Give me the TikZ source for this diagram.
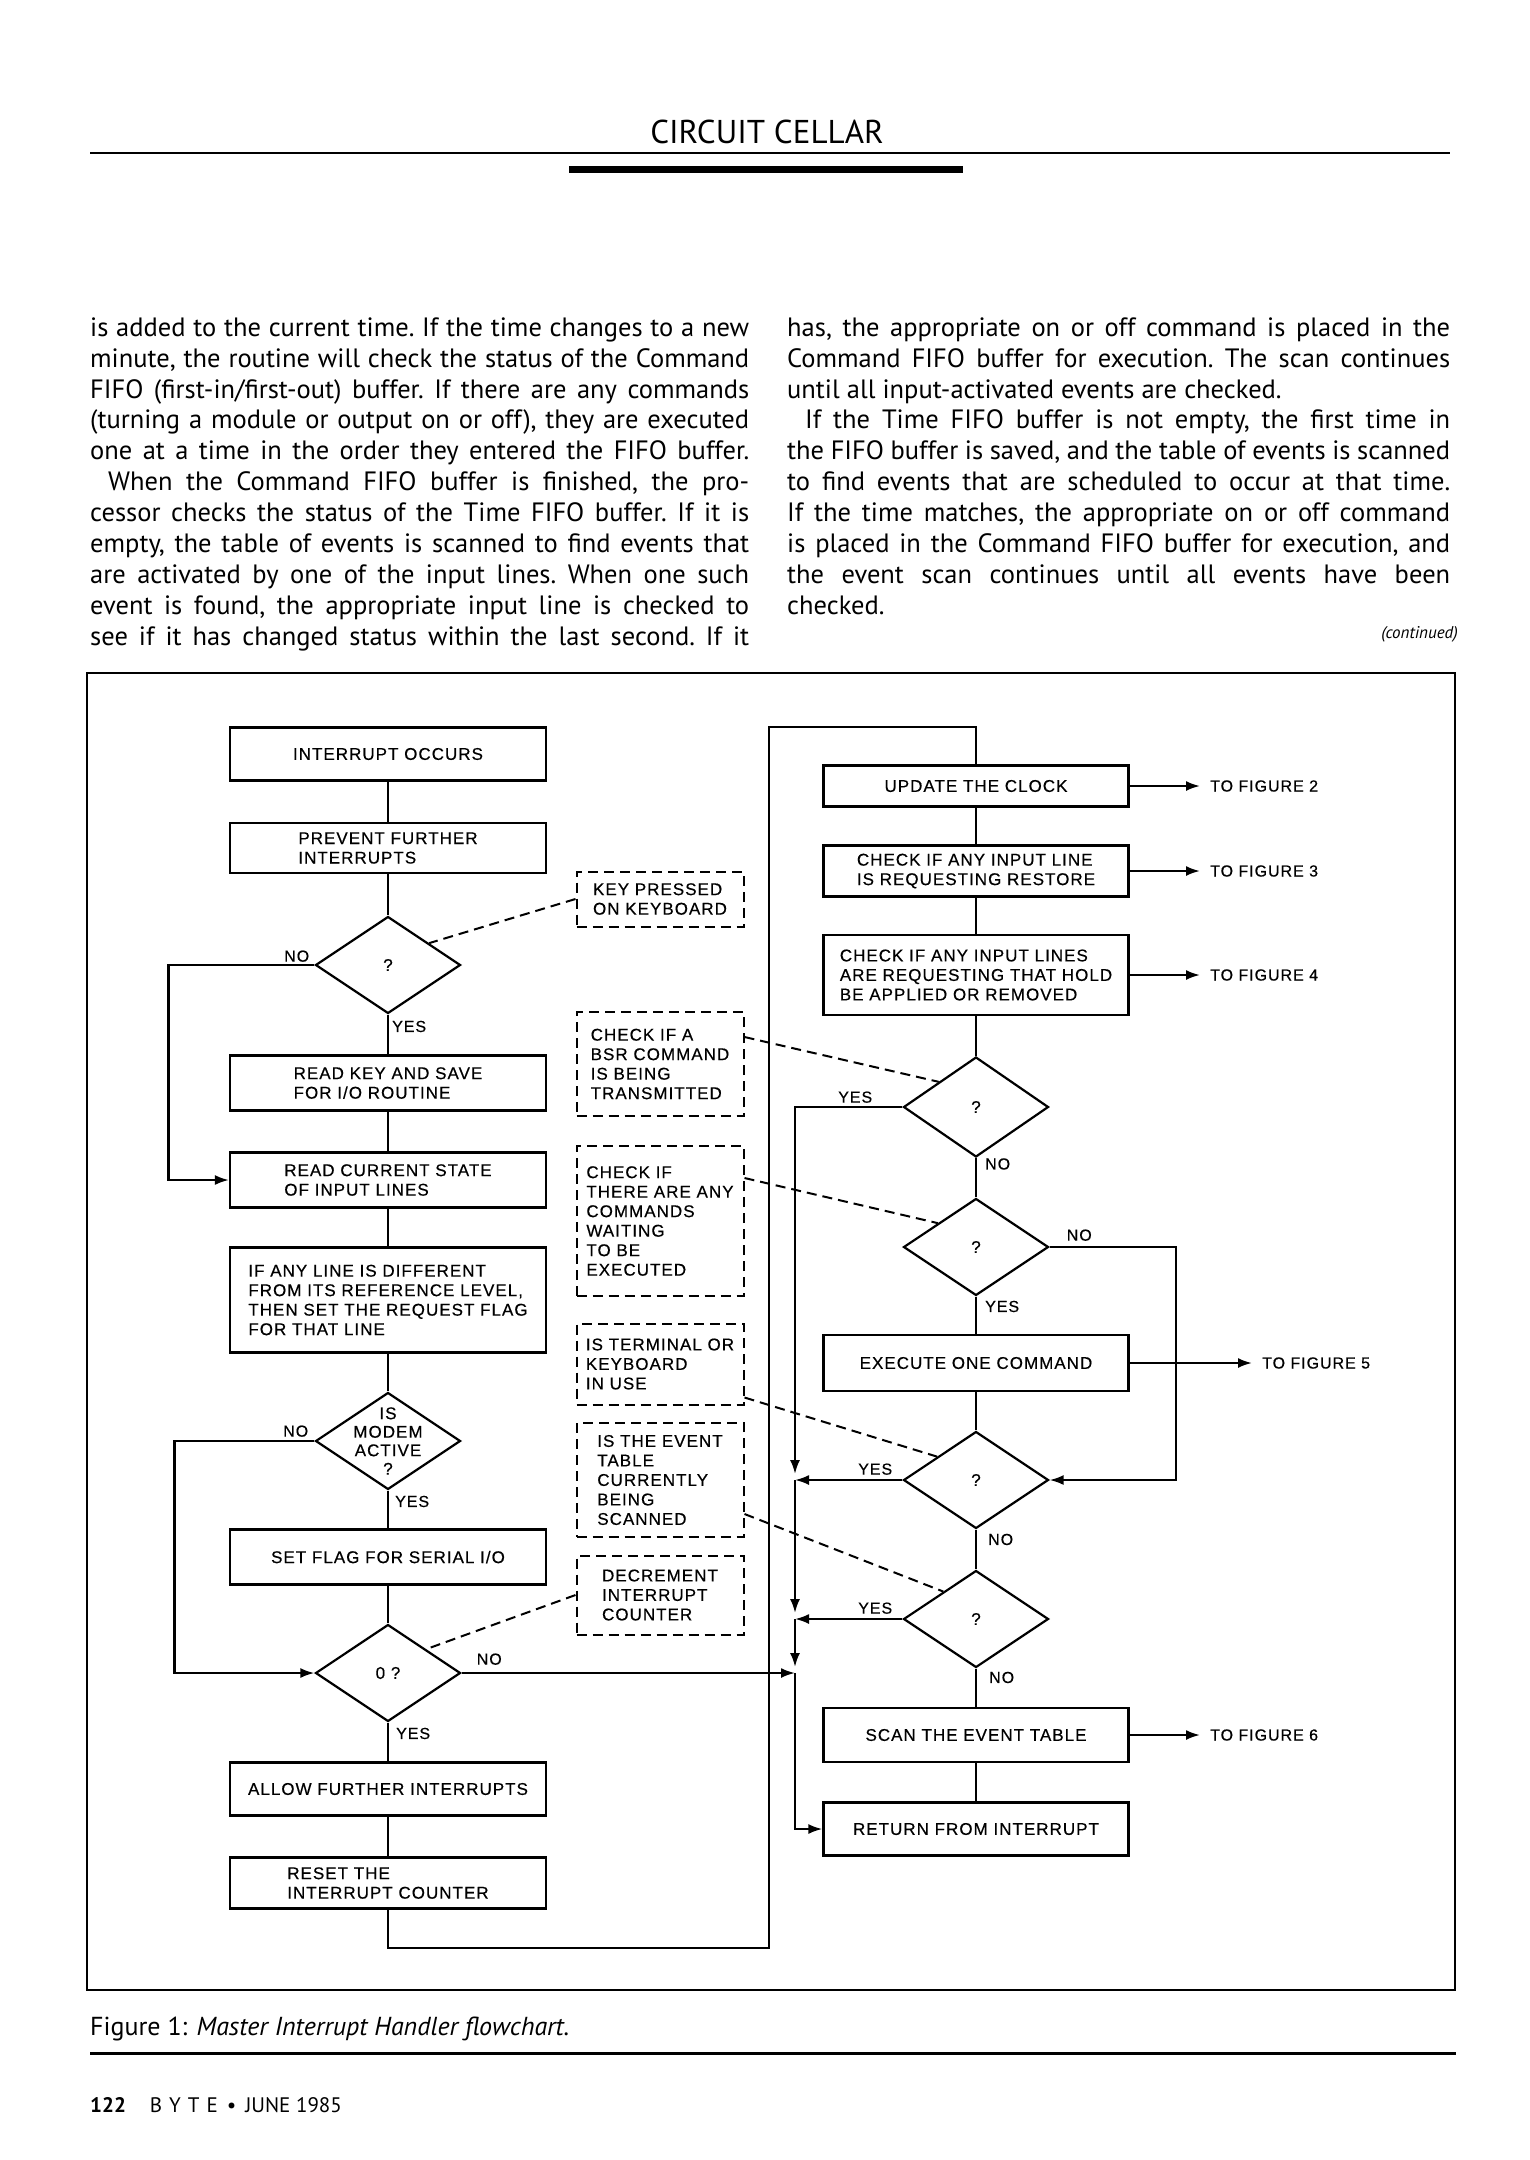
\documentclass[tikz,border=0pt]{standalone}
\usepackage{fontspec}
\setmainfont{PT Sans}
\newfontfamily\chartfont[LetterSpace=6,FakeBold=0.4]{Liberation Sans}
\usetikzlibrary{arrows.meta,positioning,shapes.geometric}
\newcommand\chartsize{\chartfont\fontsize{17}{19.5}\selectfont}

\begin{document}
\begin{tikzpicture}[x=1pt,y=-1pt,
  box/.style={draw,line width=2.2pt,minimum width=316pt,inner sep=3pt,
              align=left,font=\chartsize},
  rbox/.style={box,minimum width=305pt},
  note/.style={draw,line width=2pt,dash pattern=on 10pt off 6pt,
               minimum width=167pt,align=left,font=\chartsize},
  dia/.style={draw,diamond,line width=2.2pt,minimum width=145pt,
              minimum height=97pt,inner sep=0pt,font=\chartsize},
  lbl/.style={font=\chartfont\fontsize{16}{18}\selectfont,inner sep=0pt},
  figref/.style={lbl,anchor=west,inner xsep=10pt},
  wire/.style={line width=2.2pt},
  arr/.style={line width=2.2pt,-{Latex[length=14pt,width=10pt]}},
  link/.style={line width=2pt,dash pattern=on 10pt off 6pt},
  body/.style={anchor=north west,inner sep=0pt,align=justify,
               font=\fontsize{26.5}{30.9}\selectfont}
]
  \path[fill=white] (0,0) rectangle (1529,2160);
  \useasboundingbox (0,0) rectangle (1529,2160);

  \node[font=\fontsize{33}{38}\selectfont,inner sep=0pt] (header) at (767,132) {CIRCUIT CELLAR};
  \draw[line width=2pt] (90,153) -- (1450,153);
  \fill (569,166) rectangle (963,173);

  \node[body,text width=659pt] (colleft) at (90,314.4) {\frenchspacing\parindent=0pt\strut
    is added to the current time. If the time changes to a new\linebreak
    minute, the routine will check the status of the Command\linebreak
    FIFO (first-in/first-out) buffer. If there are any commands\linebreak
    (turning a module or output on or off), they are executed\linebreak
    one at a time in the order they entered the FIFO buffer.\parfillskip=0pt\par
    \hspace*{18pt}When the Command FIFO buffer is finished, the pro-\linebreak
    cessor checks the status of the Time FIFO buffer. If it is\linebreak
    empty, the table of events is scanned to find events that\linebreak
    are activated by one of the input lines. When one such\linebreak
    event is found, the appropriate input line is checked to\linebreak
    see if it has changed status within the last second. If it\parfillskip=0pt\par};
  \node[body,text width=663pt] (colright) at (787,314.4) {\frenchspacing\parindent=0pt\strut
    has, the appropriate on or off command is placed in the\linebreak
    Command FIFO buffer for execution. The scan continues\linebreak
    until all input-activated events are checked.\par
    \hspace*{18pt}If the Time FIFO buffer is not empty, the first time in\linebreak
    the FIFO buffer is saved, and the table of events is scanned\linebreak
    to find events that are scheduled to occur at that time.\linebreak
    If the time matches, the appropriate on or off command\linebreak
    is placed in the Command FIFO buffer for execution, and\linebreak
    the event scan continues until all events have been\linebreak
    checked.};
  \node[anchor=east,inner sep=0pt,font=\itshape\fontsize{17}{20}\selectfont] (cont) at (1458,634) {(continued)};

  \draw[line width=2pt] (87,673) rectangle (1455,1990);

  \node[box,minimum height=53pt] (occurs) at (388,754) {INTERRUPT OCCURS};
  \node[box,minimum height=50pt] (prevent) at (388,848) {PREVENT FURTHER\\INTERRUPTS};
  \node[dia] (qkey) at (388,965) {?};
  \node[box,minimum height=55pt] (readkey) at (388,1083) {READ KEY AND SAVE\\FOR I/O ROUTINE};
  \node[box,minimum height=55pt] (readstate) at (388,1180) {READ CURRENT STATE\\OF INPUT LINES};
  \node[box,minimum height=105pt] (setreq) at (388,1300) {IF ANY LINE IS DIFFERENT\\FROM ITS REFERENCE LEVEL,\\THEN SET THE REQUEST FLAG\\FOR THAT LINE};
  \node[dia,label={[align=center,inner sep=0pt,font=\chartfont\fontsize{17}{18.5}\selectfont]center:IS\\MODEM\\ACTIVE\\?}] (qmodem) at (388,1441) {};
  \node[box,minimum height=55pt] (serial) at (388,1557) {SET FLAG FOR SERIAL I/O};
  \node[dia] (qzero) at (388,1673) {0 ?};
  \node[box,minimum height=53pt] (allow) at (388,1789) {ALLOW FURTHER INTERRUPTS};
  \node[box,minimum height=51pt] (reset) at (388,1883) {RESET THE\\INTERRUPT COUNTER};

  \node[note,minimum height=55pt] (nkey) at (660,899) {KEY PRESSED\\ON KEYBOARD};
  \node[note,minimum height=104pt] (nbsr) at (660,1064) {CHECK IF A\\BSR COMMAND\\IS BEING\\TRANSMITTED};
  \node[note,minimum height=150pt] (ncmd) at (660,1221) {CHECK IF\\THERE ARE ANY\\COMMANDS\\WAITING\\TO BE\\EXECUTED};
  \node[note,minimum height=81pt] (nterm) at (660,1364) {IS TERMINAL OR\\KEYBOARD\\IN USE};
  \node[note,minimum height=114pt] (ntable) at (660,1480) {IS THE EVENT\\TABLE\\CURRENTLY\\BEING\\SCANNED};
  \node[note,minimum height=79pt] (ndec) at (660,1595) {DECREMENT\\INTERRUPT\\COUNTER};

  \node[rbox,minimum height=41pt] (clock) at (976,786) {UPDATE THE CLOCK};
  \node[rbox,minimum height=51pt] (restore) at (976,871) {CHECK IF ANY INPUT LINE\\IS REQUESTING RESTORE};
  \node[rbox,minimum height=80pt] (hold) at (976,975) {CHECK IF ANY INPUT LINES\\ARE REQUESTING THAT HOLD\\BE APPLIED OR REMOVED};
  \node[dia,minimum height=100pt] (qbsr) at (976,1107) {?};
  \node[dia] (qcmd) at (976,1247) {?};
  \node[rbox,minimum height=56pt] (exec) at (976,1363) {EXECUTE ONE COMMAND};
  \node[dia] (qterm) at (976,1480) {?};
  \node[dia] (qtable) at (976,1619) {?};
  \node[rbox,minimum height=54pt] (scan) at (976,1735) {SCAN THE EVENT TABLE};
  \node[rbox,minimum height=53pt] (ret) at (976,1829) {RETURN FROM INTERRUPT};

  \node[figref] (fig2) at (1200,786) {TO FIGURE 2};
  \node[figref] (fig3) at (1200,871) {TO FIGURE 3};
  \node[figref] (fig4) at (1200,975) {TO FIGURE 4};
  \node[figref] (fig5) at (1252,1363) {TO FIGURE 5};
  \node[figref] (fig6) at (1200,1735) {TO FIGURE 6};

  \node[lbl,above left=3pt and 5pt of qkey.west] (nokey) {NO};
  \node[lbl,below right=6pt and 4pt of qkey.south] (yeskey) {YES};
  \node[lbl,above left=4pt and 6pt of qmodem.west] (nomodem) {NO};
  \node[lbl,below right=5pt and 7pt of qmodem.south] (yesmodem) {YES};
  \node[lbl,above right=8pt and 15pt of qzero.east] (nozero) {NO};
  \node[lbl,below right=5pt and 8pt of qzero.south] (yeszero) {YES};
  \node[lbl,above left=4pt and 30pt of qbsr.west] (yesbsr) {YES};
  \node[lbl,below right=0pt and 9pt of qbsr.south] (nobsr) {NO};
  \node[lbl,above right=6pt and 17pt of qcmd.east] (nocmd) {NO};
  \node[lbl,below right=4pt and 9pt of qcmd.south] (yescmd) {YES};
  \node[lbl,above left=5pt and 10pt of qterm.west] (yesterm) {YES};
  \node[lbl,below right=4pt and 12pt of qterm.south] (noterm) {NO};
  \node[lbl,above left=5pt and 10pt of qtable.west] (yestable) {YES};
  \node[lbl,below right=3pt and 13pt of qtable.south] (notable) {NO};

  \draw[wire] (occurs) -- (prevent) -- (qkey) -- (readkey) -- (readstate) -- (setreq)
    -- (qmodem) -- (serial) -- (qzero) -- (allow) -- (reset);
  \draw[arr] (qkey.west) -- ++(-146,0) |- (readstate.west);
  \draw[arr] (qmodem.west) -- ++(-140,0) |- (qzero.west);

  \coordinate (loopbot) at (769,1948);
  \coordinate (looptop) at (769,727);
  \draw[wire] (reset.south) |- (loopbot) -- (looptop) -| (clock.north);

  \draw[wire] (clock) -- (restore) -- (hold) -- (qbsr) -- (qcmd) -- (exec)
    -- (qterm) -- (qtable) -- (scan) -- (ret);
  \draw[arr] (qcmd.east) -- ++(126,0) |- (qterm.east);

  \coordinate (rx) at (795,1107);
  \coordinate (jterm) at (rx |- qterm.west);
  \coordinate (jtable) at (rx |- qtable.west);
  \coordinate (jzero) at (rx |- qzero.east);
  \draw[arr,shorten >=6pt] (qbsr.west) -| (jterm);
  \draw[arr,shorten >=6pt] (jterm) -- (jtable);
  \draw[arr,shorten >=6pt] (jtable) -- (jzero);
  \draw[arr] (jzero) |- (ret.west);
  \draw[arr] (qterm.west) -- (jterm);
  \draw[arr] (qtable.west) -- (jtable);
  \draw[arr] (qzero.east) -- (jzero);

  \draw[arr] (clock.east) -- (fig2.west);
  \draw[arr] (restore.east) -- (fig3.west);
  \draw[arr] (hold.east) -- (fig4.west);
  \draw[arr] (exec.east) -- (fig5.west);
  \draw[arr] (scan.east) -- (fig6.west);

  \draw[link] (nkey.west) -- (qkey.28);
  \draw[link] ([yshift=-26pt]nbsr.north east) -- (qbsr.146);
  \draw[link] ([yshift=-33pt]ncmd.north east) -- (qcmd.148);
  \draw[link] ([yshift=8pt]nterm.south east) -- (qterm.149);
  \draw[link] ([yshift=24pt]ntable.south east) -- (qtable.140);
  \draw[link] (ndec.west) -- (qzero.32);

  \node[anchor=west,inner sep=0pt,font=\fontsize{26}{30}\selectfont] (caption) at (90,2029)
    {Figure 1: \textit{Master Interrupt Handler flowchart.}};
  \draw[line width=3pt] (90,2053) -- (1456,2053);
  \node[anchor=west,inner sep=0pt,font=\fontsize{21}{24}\selectfont] (footer) at (90,2105)
    {\textbf{122}\hspace{24pt}B\hspace{7pt}Y\hspace{7pt}T\hspace{7pt}E\hspace{9pt}\textbullet\hspace{9pt}JUNE 1985};
\end{tikzpicture}
\end{document}
